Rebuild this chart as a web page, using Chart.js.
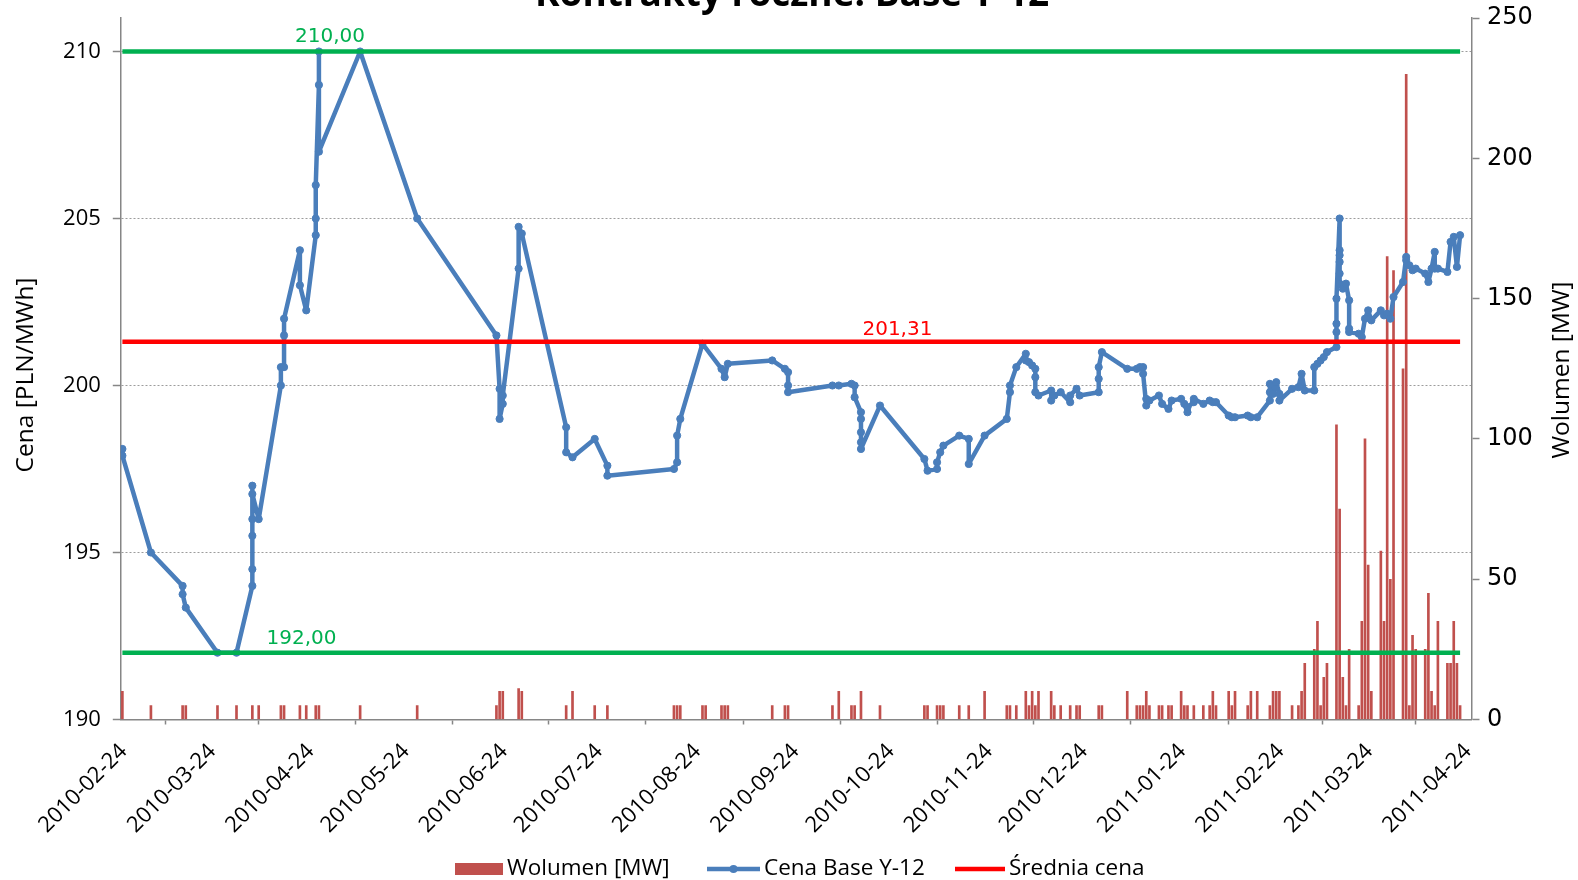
<!DOCTYPE html>
<html>
<head>
<meta charset="utf-8">
<script src="https://cdn.jsdelivr.net/npm/chart.js@4.4.1/dist/chart.umd.min.js"></script>
<style>
  html, body { margin: 0; padding: 0; background: #fff; overflow: hidden; }
  #wrap { width: 1578px; height: 880px; position: relative; }
</style>
</head>
<body>
<div id="wrap"><canvas id="chart" width="1578" height="880"></canvas></div>
<script>
const titleText = 'Kontrakty roczne: Base Y-12';

const tickLabels = ['2010-02-24', '2010-03-24', '2010-04-24', '2010-05-24', '2010-06-24', '2010-07-24',
  '2010-08-24', '2010-09-24', '2010-10-24', '2010-11-24', '2010-12-24', '2011-01-24',
  '2011-02-24', '2011-03-24', '2011-04-24'];

// transaction prices (several quotes on one day share the date)
const priceDates = [
  '2010-02-24', '2010-02-24', '2010-03-05', '2010-03-15', '2010-03-15', '2010-03-16', '2010-03-26', '2010-04-01',
  '2010-04-06', '2010-04-06', '2010-04-06', '2010-04-06', '2010-04-06', '2010-04-06', '2010-04-08',
  '2010-04-15', '2010-04-15', '2010-04-16', '2010-04-16', '2010-04-16', '2010-04-21', '2010-04-21', '2010-04-23',
  '2010-04-26', '2010-04-26', '2010-04-26', '2010-04-27', '2010-04-27', '2010-04-27', '2010-05-10', '2010-05-28',
  '2010-06-22', '2010-06-23', '2010-06-23', '2010-06-24', '2010-06-24', '2010-06-29', '2010-06-29', '2010-06-30',
  '2010-07-14', '2010-07-14', '2010-07-16', '2010-07-23', '2010-07-27', '2010-07-27',
  '2010-08-17', '2010-08-18', '2010-08-18', '2010-08-19', '2010-08-26', '2010-09-01', '2010-09-02', '2010-09-03',
  '2010-09-17', '2010-09-21', '2010-09-22', '2010-09-22', '2010-09-22',
  '2010-10-06', '2010-10-08', '2010-10-12', '2010-10-13', '2010-10-13', '2010-10-15', '2010-10-15', '2010-10-15',
  '2010-10-15', '2010-10-15', '2010-10-21',
  '2010-11-04', '2010-11-05', '2010-11-08', '2010-11-08', '2010-11-09', '2010-11-10', '2010-11-15', '2010-11-18',
  '2010-11-18', '2010-11-23', '2010-11-30', '2010-12-01', '2010-12-01', '2010-12-03', '2010-12-06', '2010-12-06',
  '2010-12-07', '2010-12-08', '2010-12-09', '2010-12-09', '2010-12-09', '2010-12-10', '2010-12-14', '2010-12-14',
  '2010-12-15', '2010-12-17', '2010-12-20', '2010-12-20', '2010-12-22', '2010-12-23', '2010-12-29', '2010-12-29',
  '2010-12-29', '2010-12-30',
  '2011-01-07', '2011-01-10', '2011-01-11', '2011-01-12', '2011-01-12', '2011-01-13', '2011-01-13', '2011-01-14',
  '2011-01-17', '2011-01-18', '2011-01-20', '2011-01-21', '2011-01-24', '2011-01-25', '2011-01-26', '2011-01-26',
  '2011-01-28', '2011-01-28', '2011-01-31', '2011-02-02', '2011-02-03', '2011-02-04', '2011-02-08', '2011-02-09',
  '2011-02-10', '2011-02-14', '2011-02-15', '2011-02-17', '2011-02-21', '2011-02-21', '2011-02-21', '2011-02-22',
  '2011-02-23', '2011-02-24', '2011-02-24', '2011-02-28', '2011-03-02', '2011-03-03', '2011-03-04', '2011-03-07',
  '2011-03-07', '2011-03-08', '2011-03-09', '2011-03-10', '2011-03-11', '2011-03-14', '2011-03-14', '2011-03-14',
  '2011-03-14', '2011-03-15', '2011-03-15', '2011-03-15', '2011-03-15', '2011-03-15', '2011-03-15', '2011-03-16',
  '2011-03-17', '2011-03-18', '2011-03-18', '2011-03-18', '2011-03-21', '2011-03-22', '2011-03-23', '2011-03-24',
  '2011-03-25', '2011-03-28', '2011-03-29', '2011-03-30', '2011-03-31', '2011-04-01', '2011-04-04', '2011-04-05',
  '2011-04-05', '2011-04-06', '2011-04-07', '2011-04-08', '2011-04-11', '2011-04-12', '2011-04-13', '2011-04-14',
  '2011-04-14', '2011-04-15', '2011-04-18', '2011-04-19', '2011-04-20', '2011-04-21', '2011-04-22'
];
const prices = [
  198.1, 197.9, 195.0, 194.0, 193.75, 193.35, 192.0, 192.0,
  194.0, 194.5, 195.5, 196.0, 197.0, 196.75, 196.0,
  200.0, 200.55, 200.55, 201.5, 202.0, 204.05, 203.0, 202.25,
  204.5, 205.0, 206.0, 209.0, 210.0, 207.0, 210.0, 205.0,
  201.5, 199.9, 199.0, 199.45, 199.7, 203.5, 204.75, 204.55,
  198.75, 198.0, 197.85, 198.4, 197.6, 197.3,
  197.5, 197.7, 198.5, 199.0, 201.25, 200.5, 200.25, 200.65,
  200.75, 200.5, 200.4, 200.0, 199.8,
  200.0, 200.0, 200.05, 200.0, 199.65, 199.2, 199.0, 198.6,
  198.3, 198.1, 199.4,
  197.8, 197.45, 197.5, 197.7, 198.0, 198.2, 198.5, 198.4,
  197.65, 198.5, 199.0, 199.8, 200.0, 200.55, 200.95, 200.75,
  200.7, 200.6, 200.5, 200.25, 199.8, 199.7, 199.85, 199.55,
  199.7, 199.8, 199.5, 199.7, 199.9, 199.7, 199.8, 200.2,
  200.55, 201.0,
  200.5, 200.5, 200.55, 200.55, 200.35, 199.4, 199.6, 199.55,
  199.7, 199.45, 199.3, 199.55, 199.6, 199.45, 199.2, 199.35,
  199.5, 199.6, 199.45, 199.55, 199.5, 199.5, 199.1, 199.05,
  199.05, 199.1, 199.05, 199.05, 199.55, 199.8, 200.05, 199.75,
  200.1, 199.75, 199.55, 199.9, 199.95, 200.35, 199.85, 199.85,
  200.55, 200.65, 200.75, 200.85, 201.0, 201.15, 201.6, 201.85,
  202.6, 205.0, 204.05, 203.9, 203.7, 203.35, 203.05, 202.9,
  203.05, 202.55, 201.7, 201.6, 201.55, 201.45, 202.0, 202.25,
  201.95, 202.25, 202.1, 202.15, 202.0, 202.65, 203.1, 203.85,
  203.75, 203.6, 203.45, 203.5, 203.35, 203.1, 203.5, 204.0,
  203.5, 203.5, 203.4, 204.3, 204.45, 203.55, 204.5
];

// daily traded volume [MW]
const volumeDates = [
  '2010-02-24', '2010-03-05', '2010-03-15', '2010-03-16', '2010-03-26', '2010-04-01', '2010-04-06', '2010-04-08',
  '2010-04-15', '2010-04-16', '2010-04-21', '2010-04-23', '2010-04-26', '2010-04-27', '2010-05-10', '2010-05-28',
  '2010-06-22', '2010-06-23', '2010-06-24', '2010-06-29', '2010-06-30', '2010-07-14', '2010-07-16', '2010-07-23',
  '2010-07-27', '2010-08-17', '2010-08-18', '2010-08-19', '2010-08-26', '2010-08-27', '2010-09-01', '2010-09-02',
  '2010-09-03', '2010-09-17', '2010-09-21', '2010-09-22', '2010-10-06', '2010-10-08', '2010-10-12', '2010-10-13',
  '2010-10-15', '2010-10-21', '2010-11-04', '2010-11-05', '2010-11-08', '2010-11-09', '2010-11-10', '2010-11-15',
  '2010-11-18', '2010-11-23', '2010-11-30', '2010-12-01', '2010-12-03', '2010-12-06', '2010-12-07', '2010-12-08',
  '2010-12-09', '2010-12-10', '2010-12-14', '2010-12-15', '2010-12-17', '2010-12-20', '2010-12-22', '2010-12-23',
  '2010-12-29', '2010-12-30', '2011-01-07', '2011-01-10', '2011-01-11', '2011-01-12', '2011-01-13', '2011-01-14',
  '2011-01-17', '2011-01-18', '2011-01-20', '2011-01-21', '2011-01-24', '2011-01-25', '2011-01-26', '2011-01-28',
  '2011-01-31', '2011-02-02', '2011-02-03', '2011-02-04', '2011-02-08', '2011-02-09', '2011-02-10', '2011-02-14',
  '2011-02-15', '2011-02-17', '2011-02-21', '2011-02-22', '2011-02-23', '2011-02-24', '2011-02-28', '2011-03-02',
  '2011-03-03', '2011-03-04', '2011-03-07', '2011-03-08', '2011-03-09', '2011-03-10', '2011-03-11', '2011-03-14',
  '2011-03-15', '2011-03-16', '2011-03-17', '2011-03-18', '2011-03-21', '2011-03-22', '2011-03-23', '2011-03-24',
  '2011-03-25', '2011-03-28', '2011-03-29', '2011-03-30', '2011-03-31', '2011-04-01', '2011-04-04', '2011-04-05',
  '2011-04-06', '2011-04-07', '2011-04-08', '2011-04-11', '2011-04-12', '2011-04-13', '2011-04-14', '2011-04-15',
  '2011-04-18', '2011-04-19', '2011-04-20', '2011-04-21', '2011-04-22'
];
const volumes = [
  10, 5, 5, 5, 5, 5, 5, 5,
  5, 5, 5, 5, 5, 5, 5, 5,
  5, 10, 10, 11, 10, 5, 10, 5,
  5, 5, 5, 5, 5, 5, 5, 5,
  5, 5, 5, 5, 5, 10, 5, 5,
  10, 5, 5, 5, 5, 5, 5, 5,
  5, 10, 5, 5, 5, 10, 5, 10,
  5, 10, 10, 5, 5, 5, 5, 5,
  5, 5, 10, 5, 5, 5, 10, 5,
  5, 5, 5, 5, 10, 5, 5, 5,
  5, 5, 10, 5, 10, 5, 10, 5,
  10, 10, 5, 10, 10, 10, 5, 5,
  10, 20, 25, 35, 5, 15, 20, 105,
  75, 15, 5, 25, 5, 35, 100, 55,
  10, 60, 35, 165, 50, 160, 125, 230,
  5, 30, 25, 25, 45, 10, 5, 35,
  20, 20, 35, 20, 5
];

const maxPrice = 210.00;
const minPrice = 192.00;
const avgPrice = 201.31;

const DAY0 = Date.UTC(2010, 1, 24);
const dayOf = s => {
  const [yy, mm, dd] = s.split('-').map(Number);
  return (Date.UTC(yy, mm - 1, dd) - DAY0) / 86400000;
};
// each trading day sits in the middle of its one-day slot
const slot = s => dayOf(s) + 0.5;

const firstX = slot(priceDates[0]);
const lastX = slot(priceDates[priceDates.length - 1]);
const levelLine = v => [{ x: firstX, y: v }, { x: lastX, y: v }];

const fmt = v => v.toFixed(2).replace('.', ',');

const BLUE = '#4A7EBB';
const BAR = '#C0504D';
const GREEN = '#00B050';
const RED = '#FF0000';
const AXIS = '#868686';

const decor = {
  id: 'decor',
  afterDraw(chart) {
    const { ctx, scales: { x, y } } = chart;
    ctx.save();

    // value labels over the level lines
    ctx.font = '20px "DejaVu Sans"';
    ctx.textAlign = 'center';
    ctx.textBaseline = 'alphabetic';
    [[maxPrice, '2010-05-01', GREEN, 10], [minPrice, '2010-04-22', GREEN, 9], [avgPrice, '2010-10-27', RED, 7]]
      .forEach(([v, d, c, off]) => {
        ctx.fillStyle = c;
        ctx.fillText(fmt(v), x.getPixelForValue(dayOf(d)), y.getPixelForValue(v) - off);
      });

    // title (cut by the top edge, as in the original)
    ctx.fillStyle = '#000';
    ctx.font = 'bold 37px "Open Sans"';
    ctx.fillText(titleText, 792, 6);

    // axis titles, both reading upwards
    ctx.textBaseline = 'middle';
    ctx.font = '24.5px "Open Sans"';
    [['Cena [PLN/MWh]', 26, 375], ['Wolumen [MW]', 1562, 370]].forEach(([t, tx, ty]) => {
      ctx.save();
      ctx.translate(tx, ty);
      ctx.rotate(-Math.PI / 2);
      ctx.fillText(t, 0, 0);
      ctx.restore();
    });

    // legend
    const items = [
      { text: 'Wolumen [MW]', kind: 'box', color: BAR, x0: 455, w: 48 },
      { text: 'Cena Base Y-12', kind: 'marker', color: BLUE, x0: 707, w: 53 },
      { text: 'Średnia cena', kind: 'line', color: RED, x0: 955, w: 50 }
    ];
    ctx.font = '22.5px "Open Sans"';
    ctx.textAlign = 'left';
    const ly = 869;
    items.forEach(it => {
      ctx.fillStyle = it.color;
      ctx.strokeStyle = it.color;
      if (it.kind === 'box') {
        ctx.fillRect(it.x0, ly - 6, it.w, 12);
      } else {
        ctx.lineWidth = 4.5;
        ctx.beginPath();
        ctx.moveTo(it.x0, ly);
        ctx.lineTo(it.x0 + it.w, ly);
        ctx.stroke();
        if (it.kind === 'marker') {
          ctx.beginPath();
          ctx.arc(it.x0 + it.w / 2, ly, 4, 0, Math.PI * 2);
          ctx.fill();
        }
      }
      ctx.fillStyle = '#000';
      ctx.fillText(it.text, it.x0 + it.w + 4, ly);
    });
    ctx.restore();
  }
};

new Chart(document.getElementById('chart'), {
  data: {
    datasets: [
      {
        type: 'line', label: 'max', yAxisID: 'y', order: 1,
        data: levelLine(maxPrice),
        borderColor: GREEN, borderWidth: 4.5, pointRadius: 0
      },
      {
        type: 'line', label: 'min', yAxisID: 'y', order: 1,
        data: levelLine(minPrice),
        borderColor: GREEN, borderWidth: 4.5, pointRadius: 0
      },
      {
        type: 'line', label: 'Średnia cena', yAxisID: 'y', order: 1,
        data: levelLine(avgPrice),
        borderColor: RED, borderWidth: 4.5, pointRadius: 0
      },
      {
        type: 'line', label: 'Cena Base Y-12', yAxisID: 'y', order: 2,
        data: priceDates.map((d, i) => ({ x: slot(d), y: prices[i] })),
        borderColor: BLUE, backgroundColor: BLUE, borderWidth: 4.5,
        borderJoinStyle: 'round', borderCapStyle: 'round',
        pointRadius: 3.6, pointBorderWidth: 1, pointBorderColor: BLUE, pointBackgroundColor: BLUE
      },
      {
        type: 'bar', label: 'Wolumen [MW]', yAxisID: 'yVol', order: 3,
        data: volumeDates.map((d, i) => ({ x: slot(d), y: volumes[i] })),
        backgroundColor: BAR, barThickness: 2
      }
    ]
  },
  options: {
    responsive: false,
    animation: false,
    devicePixelRatio: 1,
    layout: { padding: { top: 18.1, left: 0, right: 0, bottom: 0 } },
    plugins: { legend: { display: false }, tooltip: { enabled: false } },
    scales: {
      x: {
        type: 'linear', min: 0, max: 426.1, offset: false,
        afterBuildTicks: s => { s.ticks = tickLabels.map(t => ({ value: dayOf(t) })); },
        afterFit: s => { s.height = 160.5; s.paddingLeft = 0; s.paddingRight = 0; },
        ticks: {
          autoSkip: false, minRotation: 45, maxRotation: 45, padding: 14, labelOffset: 3, color: '#000',
          font: { family: 'Open Sans', size: 22 },
          callback: (v, i) => tickLabels[i]
        },
        grid: { drawOnChartArea: false, drawTicks: true, tickLength: 5, tickColor: AXIS, tickWidth: 1.5 },
        border: { color: AXIS, width: 1.5 }
      },
      y: {
        position: 'left', min: 190, max: 211,
        afterBuildTicks: s => { s.ticks = s.ticks.filter(t => t.value % 5 === 0); },
        afterFit: s => { s.width = 120.8; s.paddingTop = 0; s.paddingBottom = 0; },
        ticks: { stepSize: 5, padding: 12, color: '#000', font: { family: 'Open Sans', size: 22 } },
        grid: {
          color: c => (c.tick && c.tick.value === 190 ? 'rgba(0,0,0,0)' : '#9C9C9C'),
          lineWidth: 1, tickLength: 8, tickColor: AXIS, tickWidth: 1.5
        },
        border: { color: AXIS, width: 1.5, dash: [2, 2] }
      },
      yVol: {
        position: 'right', min: 0, max: 250,
        afterFit: s => { s.width = 106.5; s.paddingTop = 0; s.paddingBottom = 0; },
        ticks: { stepSize: 50, padding: 7.5, color: '#000', font: { family: 'DejaVu Sans', size: 24 } },
        grid: { drawOnChartArea: false, tickLength: 8, tickColor: AXIS, tickWidth: 1.5 },
        border: { color: AXIS, width: 1.5 }
      }
    }
  },
  plugins: [decor]
});
</script>
</body>
</html>
